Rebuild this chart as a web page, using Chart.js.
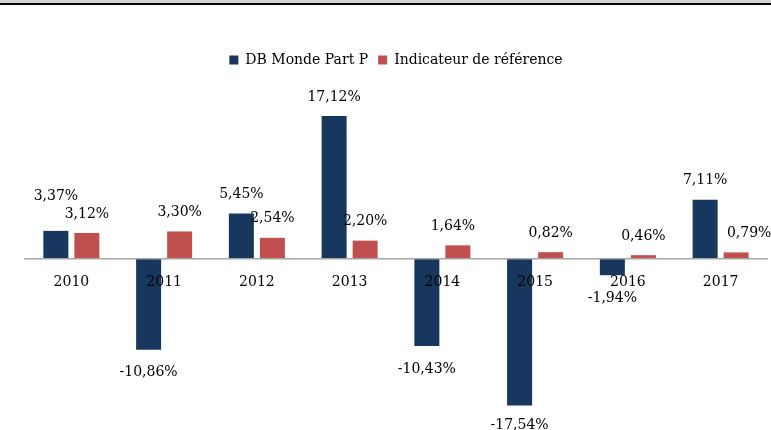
<!DOCTYPE html>
<html>
<head>
<meta charset="utf-8">
<script src="https://cdn.jsdelivr.net/npm/chart.js@4/dist/chart.umd.min.js"></script>
<style>
  html, body { margin: 0; padding: 0; background: #fff; }
  #wrap { position: relative; width: 771px; height: 430px; }
  #topline { position: absolute; left: 0; top: 0; width: 771px; height: 3px; background: #d4d4d4; border-bottom: 2px solid #000; }
</style>
</head>
<body>
<div id="wrap">
  <canvas id="chart" width="771" height="430"></canvas>
  <div id="topline"></div>
</div>
<script>
// Data
const years = ["2010", "2011", "2012", "2013", "2014", "2015", "2016", "2017"];
const fundValues = [3.37, -10.86, 5.45, 17.12, -10.43, -17.54, -1.94, 7.11];
const benchValues = [3.12, 3.30, 2.54, 2.20, 1.64, 0.82, 0.46, 0.79];

// small label nudges (like the hand-moved labels in the original)
const nudgeX = [[0, 0, 0, 0, 0, 0, 0, 0], [0, 0, 0, 0, -5, 0, 0, 13]];
const nudgeY = [[-16, 0, 0, 0, 0, -3, 0, 0], [0, 0, 0, 0, 0, 0, 0, 0]];

const serif = "'DejaVu Serif', serif";

function pct(v) {
    return v.toFixed(2).replace(".", ",") + "%";
}

// ==========================
// Value labels
// ==========================
const valueLabels = {
    id: "valueLabels",
    afterDatasetsDraw(chart) {
        const ctx = chart.ctx;
        ctx.save();
        ctx.font = "14px " + serif;
        ctx.fillStyle = "#000";
        ctx.textAlign = "center";
        ctx.textBaseline = "middle";
        chart.data.datasets.forEach((ds, di) => {
            chart.getDatasetMeta(di).data.forEach((bar, i) => {
                const v = ds.data[i];
                const y = v >= 0 ? bar.y - 19 : bar.y + 23;
                ctx.fillText(pct(v), bar.x + nudgeX[di][i], y + nudgeY[di][i]);
            });
        });
        ctx.restore();
    }
};

new Chart(document.getElementById("chart"), {
    type: "bar",
    data: {
        labels: years,
        datasets: [{
            label: "DB Monde Part P",
            data: fundValues,
            backgroundColor: "#17375E"
        }, {
            label: "Indicateur de référence",
            data: benchValues,
            backgroundColor: "#C0504D"
        }]
    },
    options: {
        responsive: false,
        animation: false,
        layout: {
            padding: { left: 25, right: 4, top: 43, bottom: 0 }
        },
        datasets: {
            bar: {
                categoryPercentage: 0.669,
                barPercentage: 0.806
            }
        },
        scales: {
            x: {
                position: { y: 0 },
                grid: { display: false },
                border: { display: true, color: "#A6A6A6", width: 1.5, z: 1 },
                ticks: {
                    color: "#000",
                    padding: 7,
                    z: 1,
                    font: { family: serif, size: 14 }
                }
            },
            y: {
                display: false,
                min: -20.48,
                max: 21.8
            }
        },
        plugins: {
            legend: {
                position: "top",
                labels: {
                    color: "#000",
                    boxWidth: 9,
                    boxHeight: 9,
                    padding: 10,
                    font: { family: serif, size: 14 }
                }
            },
            tooltip: { enabled: false }
        }
    },
    plugins: [valueLabels]
});
</script>
</body>
</html>
